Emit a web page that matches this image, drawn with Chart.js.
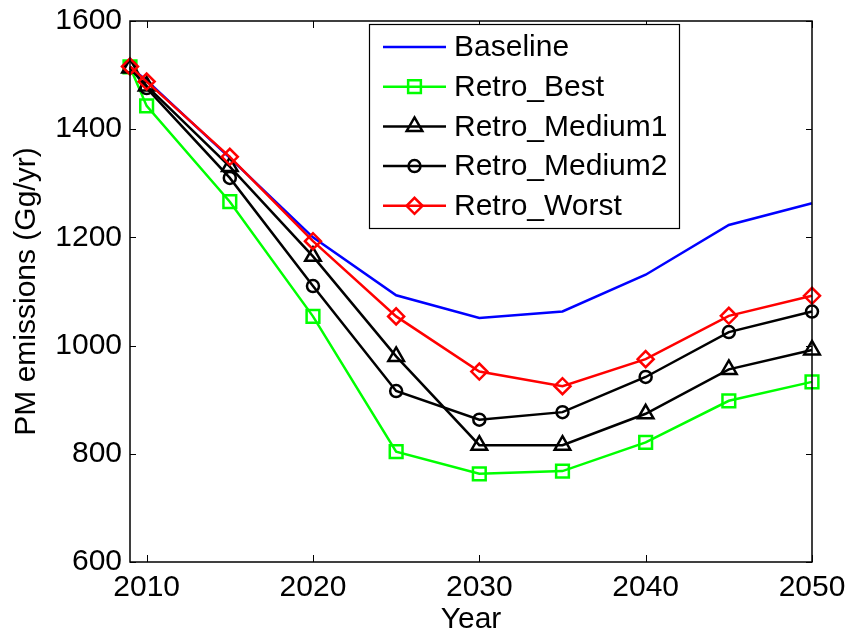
<!DOCTYPE html>
<html><head><meta charset="utf-8">
<script src="https://cdn.jsdelivr.net/npm/chart.js@4"></script>
<style>html,body{margin:0;padding:0;background:#fff;overflow:hidden}</style>
</head><body>
<canvas id="c" width="848" height="635"></canvas>
<script>
// ---- data ----
const years = [2009, 2010, 2015, 2020, 2025, 2030, 2035, 2040, 2045, 2050];
const baseline     = [1515, 1490, 1347, 1200, 1093, 1051, 1063, 1131, 1223, 1263];
const retroBest    = [1515, 1443, 1266, 1054,  804,  763,  768,  821,  898,  933];
const retroMedium1 = [1513, 1480, 1331, 1165,  980,  816,  816,  874,  956,  992];
const retroMedium2 = [1515, 1476, 1310, 1110,  916,  863,  877,  942, 1025, 1063];
const retroWorst   = [1516, 1488, 1349, 1193, 1054,  952,  925,  975, 1055, 1092];
const seriesNames  = ['Baseline', 'Retro_Best', 'Retro_Medium1', 'Retro_Medium2', 'Retro_Worst'];
const xTicks = [2010, 2020, 2030, 2040, 2050];
const yTicks = [600, 800, 1000, 1200, 1400, 1600];
const xTitle = 'Year';
const yTitle = 'PM emissions (Gg/yr)';

const FONT = "'Liberation Sans', Arial, sans-serif";
const toXY = arr => years.map((x, i) => ({x: x, y: arr[i]}));

const styles = [
  {color: '#0000ff', pointStyle: false, radius: 0},
  {color: '#00ff00', pointStyle: 'rect', radius: 9},
  {color: '#000000', pointStyle: 'triangle', radius: 9},
  {color: '#000000', pointStyle: 'circle', radius: 6},
  {color: '#ff0000', pointStyle: 'rectRot', radius: 8}
];
const values = [baseline, retroBest, retroMedium1, retroMedium2, retroWorst];

const datasets = values.map((arr, i) => ({
  label: seriesNames[i],
  data: toXY(arr),
  borderColor: styles[i].color,
  backgroundColor: styles[i].color,
  borderWidth: 2.5,
  pointStyle: styles[i].pointStyle,
  pointRadius: styles[i].radius,
  pointHoverRadius: styles[i].radius,
  pointBorderColor: styles[i].color,
  pointBackgroundColor: 'rgba(0,0,0,0)',
  pointBorderWidth: 2.5,
  tension: 0,
  fill: false,
  clip: false,
  order: values.length - i
}));

const zeroPad = s => { s.paddingTop = 0; s.paddingBottom = 0; s.paddingLeft = 0; s.paddingRight = 0; };

const framePlugin = {
  id: 'frame',
  afterDraw(chart) {
    const ctx = chart.ctx;
    const a = chart.chartArea;
    const xs = chart.scales.x, ys = chart.scales.y;
    ctx.save();
    ctx.strokeStyle = '#000';
    ctx.lineWidth = 1.5;
    ctx.strokeRect(a.left, a.top, a.right - a.left, a.bottom - a.top);
    ctx.lineWidth = 1;
    ctx.beginPath();
    xs.ticks.forEach(t => {
      const px = Math.round(xs.getPixelForValue(t.value)) + 0.5;
      ctx.moveTo(px, a.bottom); ctx.lineTo(px, a.bottom - 7);
      ctx.moveTo(px, a.top); ctx.lineTo(px, a.top + 7);
    });
    ys.ticks.forEach(t => {
      const py = Math.round(ys.getPixelForValue(t.value)) + 0.5;
      ctx.moveTo(a.left, py); ctx.lineTo(a.left + 6, py);
      ctx.moveTo(a.right, py); ctx.lineTo(a.right - 6, py);
    });
    ctx.stroke();

    // legend (MATLAB style)
    const L = {x: 369.5, y: 24.5, w: 310, h: 204};
    ctx.fillStyle = '#fff';
    ctx.fillRect(L.x, L.y, L.w, L.h);
    ctx.strokeStyle = '#000';
    ctx.lineWidth = 1.2;
    ctx.strokeRect(L.x, L.y, L.w, L.h);
    ctx.font = '30px ' + FONT;
    ctx.textBaseline = 'middle';
    ctx.textAlign = 'left';
    chart.data.datasets.forEach((ds, i) => {
      const cy = 47 + i * 39.7;
      ctx.strokeStyle = ds.borderColor;
      ctx.lineWidth = 2.5;
      ctx.beginPath();
      ctx.moveTo(383, cy); ctx.lineTo(446, cy);
      ctx.stroke();
      if (ds.pointStyle) {
        ctx.fillStyle = 'rgba(0,0,0,0)';
        ctx.strokeStyle = ds.borderColor;
        Chart.helpers.drawPoint(ctx, {pointStyle: ds.pointStyle, radius: ds.pointRadius, rotation: 0, borderWidth: 2.5}, 414.5, cy);
      }
      ctx.fillStyle = '#000';
      ctx.fillText(ds.label, 454, cy + 1);
    });
    ctx.restore();
  }
};

new Chart(document.getElementById('c'), {
  type: 'line',
  data: {datasets: datasets},
  options: {
    responsive: false,
    animation: false,
    devicePixelRatio: 1,
    events: [],
    layout: {padding: {top: 21, right: 36, left: 0, bottom: 0}},
    plugins: {legend: {display: false}, tooltip: {enabled: false}},
    scales: {
      x: {
        type: 'linear',
        min: 2009, max: 2050,
        afterBuildTicks: s => { s.ticks = xTicks.map(v => ({value: v})); },
        afterFit: s => { s.height = 73; zeroPad(s); },
        grid: {display: false, drawTicks: false},
        border: {display: false},
        ticks: {color: '#000', padding: 8, maxRotation: 0, autoSkip: false,
                font: {family: FONT, size: 30}, callback: v => String(v)},
        title: {display: true, text: xTitle, color: '#000', padding: 0,
                font: {family: FONT, size: 30, lineHeight: 1.0}}
      },
      y: {
        type: 'linear',
        min: 600, max: 1600,
        afterBuildTicks: s => { s.ticks = yTicks.map(v => ({value: v})); },
        afterFit: s => { s.width = 130; zeroPad(s); },
        grid: {display: false, drawTicks: false},
        border: {display: false},
        ticks: {color: '#000', padding: 8, autoSkip: false,
                font: {family: FONT, size: 30}, callback: v => String(v)},
        title: {display: true, text: yTitle, color: '#000', padding: {top: 12, bottom: 0},
                font: {family: FONT, size: 30, lineHeight: 1.0}}
      }
    }
  },
  plugins: [framePlugin]
});
</script>
</body></html>
